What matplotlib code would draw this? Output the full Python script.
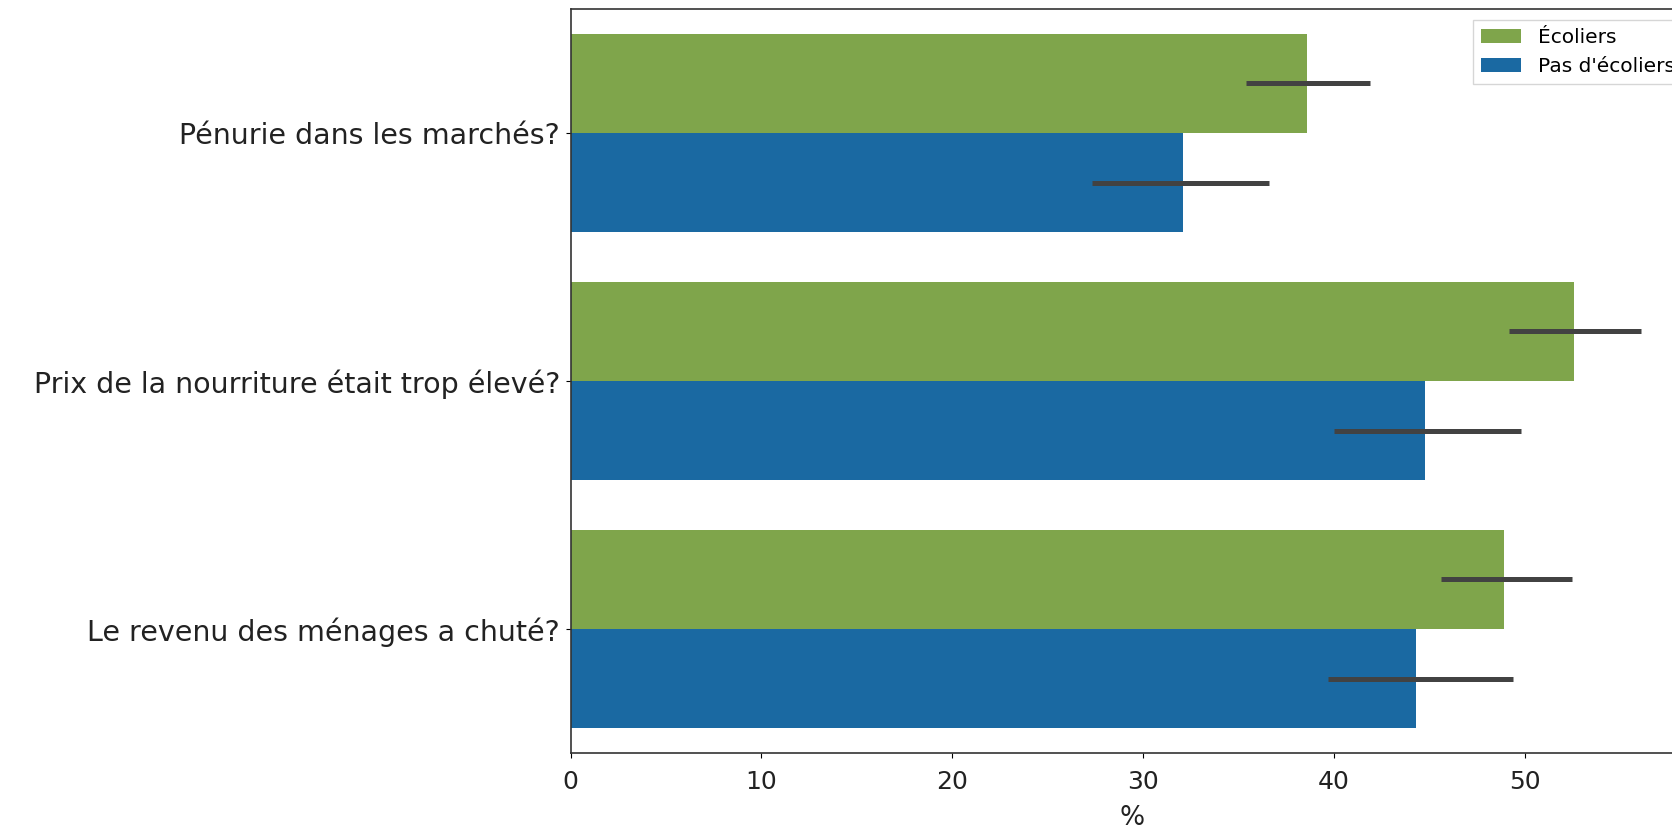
import matplotlib
matplotlib.use("Agg")
import matplotlib.pyplot as plt
import numpy as np

# questions (top to bottom)
categories = [
    "Pénurie dans les marchés?",
    "Prix de la nourriture était trop élevé?",
    "Le revenu des ménages a chuté?",
]
series_names = ["Écoliers", "Pas d'écoliers"]

ecoliers = [38.6, 52.6, 48.9]
ecoliers_lo = [35.4, 49.2, 45.6]
ecoliers_hi = [41.9, 56.1, 52.5]

pas_ecoliers = [32.1, 44.8, 44.3]
pas_ecoliers_lo = [27.3, 40.0, 39.7]
pas_ecoliers_hi = [36.6, 49.8, 49.4]

xticks = [0, 10, 20, 30, 40, 50]

green = "#7fa54b"
blue = "#1a69a2"
err_color = "#424242"

fig = plt.figure(figsize=(16.72, 8.31), dpi=100)
# the original image is a crop: axes run past the right edge of the figure
ax = fig.add_axes([0.3413, 0.0939, 0.6721, 0.8953])

y = np.arange(len(categories))
h = 0.4
ax.barh(y - h / 2, ecoliers, height=h, color=green, label=series_names[0])
ax.barh(y + h / 2, pas_ecoliers, height=h, color=blue, label=series_names[1])

for i in range(len(categories)):
    ax.plot([ecoliers_lo[i], ecoliers_hi[i]], [y[i] - h / 2] * 2,
            color=err_color, lw=3.6, solid_capstyle="butt")
    ax.plot([pas_ecoliers_lo[i], pas_ecoliers_hi[i]], [y[i] + h / 2] * 2,
            color=err_color, lw=3.6, solid_capstyle="butt")

ax.set_ylim(2.5, -0.5)
ax.set_xlim(0, 58.9)
ax.set_yticks(y)
ax.set_yticklabels(categories, fontsize=20.5, color="#222222")
ax.set_xticks(xticks)
ax.set_xticklabels([str(t) for t in xticks], fontsize=18, color="#222222")
ax.tick_params(axis="x", pad=9)
ax.tick_params(axis="y", pad=4)
ax.set_xlabel("%", fontsize=19, color="#222222", labelpad=8)

for s in ax.spines.values():
    s.set_color("#333333")
    s.set_linewidth(1.2)

ax.legend(loc="upper left", bbox_to_anchor=(1472.7 / 1672, 1 - 20 / 831),
          bbox_transform=fig.transFigure, borderaxespad=0,
          fontsize=14.5, frameon=True, fancybox=False, edgecolor="#cccccc",
          handlelength=2.0, handletextpad=0.85, borderpad=0.4)

fig.savefig("out.png", dpi=100)
